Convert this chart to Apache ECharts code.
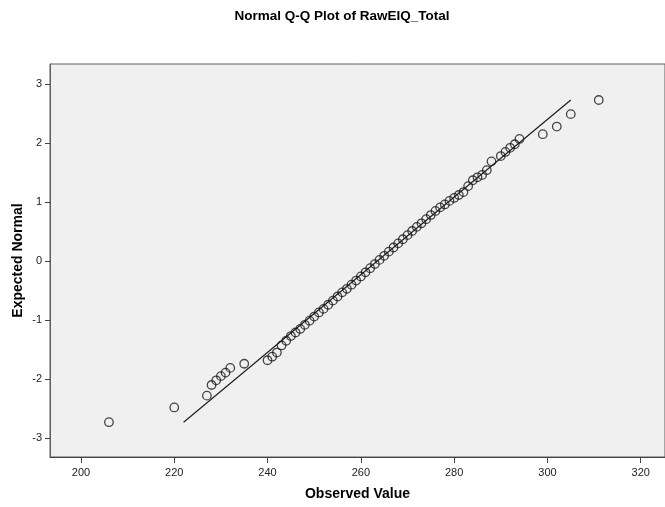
<!DOCTYPE html>
<html>
<head>
<meta charset="utf-8">
<title>Normal Q-Q Plot of RawEIQ_Total</title>
<script src="https://cdn.jsdelivr.net/npm/echarts@6/dist/echarts.min.js"></script>
<style>
  html, body { margin: 0; padding: 0; background: #ffffff; }
  #chart { width: 665px; height: 507px; }
</style>
</head>
<body>
<div id="chart"></div>
<script>
// Observed values (distinct scores) and their expected normal quantiles
const observedValues = [
  206, 220, 227, 228, 229, 230, 231, 232, 235,
  240, 241, 242, 243, 244, 245, 246, 247, 248, 249,
  250, 251, 252, 253, 254, 255, 256, 257, 258, 259,
  260, 261, 262, 263, 264, 265, 266, 267, 268, 269,
  270, 271, 272, 273, 274, 275, 276, 277, 278, 279,
  280, 281, 282, 283, 284, 285, 286, 287, 288,
  290, 291, 292, 293, 294, 299, 302, 305, 311
];
const expectedNormal = [
  -2.73, -2.48, -2.28, -2.10, -2.02, -1.95, -1.89, -1.81, -1.74,
  -1.68, -1.62, -1.55, -1.43, -1.35, -1.27, -1.21, -1.15, -1.08, -1.01,
  -0.94, -0.87, -0.81, -0.74, -0.67, -0.60, -0.53, -0.47, -0.40, -0.33,
  -0.26, -0.19, -0.12, -0.05, 0.02, 0.09, 0.16, 0.23, 0.30, 0.37,
  0.44, 0.51, 0.58, 0.64, 0.71, 0.78, 0.85, 0.91, 0.96, 1.02,
  1.07, 1.12, 1.17, 1.27, 1.37, 1.42, 1.46, 1.54, 1.69,
  1.78, 1.85, 1.92, 1.98, 2.07, 2.15, 2.28, 2.49, 2.73
];

// Reference line of the fitted normal distribution (end points)
const refLineX = [222, 305];
const refLineY = [-2.73, 2.73];

// Axis tick labels
const xTicks = [200, 220, 240, 260, 280, 300, 320];
const yTicks = [-3, -2, -1, 0, 1, 2, 3];

const points = observedValues.map((v, i) => [v, expectedNormal[i]]);
const refLine = refLineX.map((v, i) => [v, refLineY[i]]);

const FONT = '"Liberation Sans", Arial, Helvetica, sans-serif';

const chart = echarts.init(document.getElementById('chart'), null, { renderer: 'canvas' });

chart.setOption({
  animation: false,
  backgroundColor: '#ffffff',
  graphic: [{
    type: 'text',
    x: 342,
    y: 9,
    style: {
      text: 'Normal Q-Q Plot of RawEIQ_Total',
      font: 'bold 13.5px ' + FONT,
      fill: '#000000',
      textAlign: 'center',
      textVerticalAlign: 'top'
    }
  }],
  grid: {
    left: 50,
    right: -1,
    top: 64,
    bottom: 50,
    show: true,
    backgroundColor: '#f0f0f0',
    borderColor: '#5c5c5c',
    borderWidth: 1
  },
  xAxis: {
    type: 'value',
    min: 193.365,
    max: 325.2,
    name: 'Observed Value',
    nameLocation: 'middle',
    nameGap: 30,
    nameMoveOverlap: false,
    nameTextStyle: { fontFamily: FONT, fontWeight: 'bold', fontSize: 14, color: '#000' },
    axisLine: { show: true, onZero: false, lineStyle: { color: '#444444', width: 1 } },
    axisTick: { show: true, length: 6, customValues: xTicks, lineStyle: { color: '#444444' } },
    axisLabel: { customValues: xTicks, fontFamily: FONT, fontSize: 11, color: '#222', margin: 10 },
    splitLine: { show: false }
  },
  yAxis: {
    type: 'value',
    min: -3.32,
    max: 3.34,
    name: 'Expected Normal',
    nameLocation: 'middle',
    nameRotate: 90,
    nameGap: 25,
    nameMoveOverlap: false,
    nameTextStyle: { fontFamily: FONT, fontWeight: 'bold', fontSize: 14, color: '#000' },
    axisLine: { show: true, onZero: false, lineStyle: { color: '#5c5c5c', width: 1 } },
    axisTick: { show: true, length: 5, customValues: yTicks, lineStyle: { color: '#444444' } },
    axisLabel: { customValues: yTicks, fontFamily: FONT, fontSize: 11, color: '#222', margin: 8 },
    splitLine: { show: false }
  },
  series: [
    {
      type: 'line',
      data: refLine,
      symbol: 'none',
      silent: true,
      z: 1,
      lineStyle: { color: '#1e1e1e', width: 1.2 }
    },
    {
      type: 'scatter',
      data: points,
      symbol: 'circle',
      symbolSize: 8.5,
      z: 2,
      itemStyle: { color: 'rgba(0,0,0,0)', borderColor: '#1a1a1a', borderWidth: 1.3 }
    }
  ]
});
</script>
</body>
</html>
